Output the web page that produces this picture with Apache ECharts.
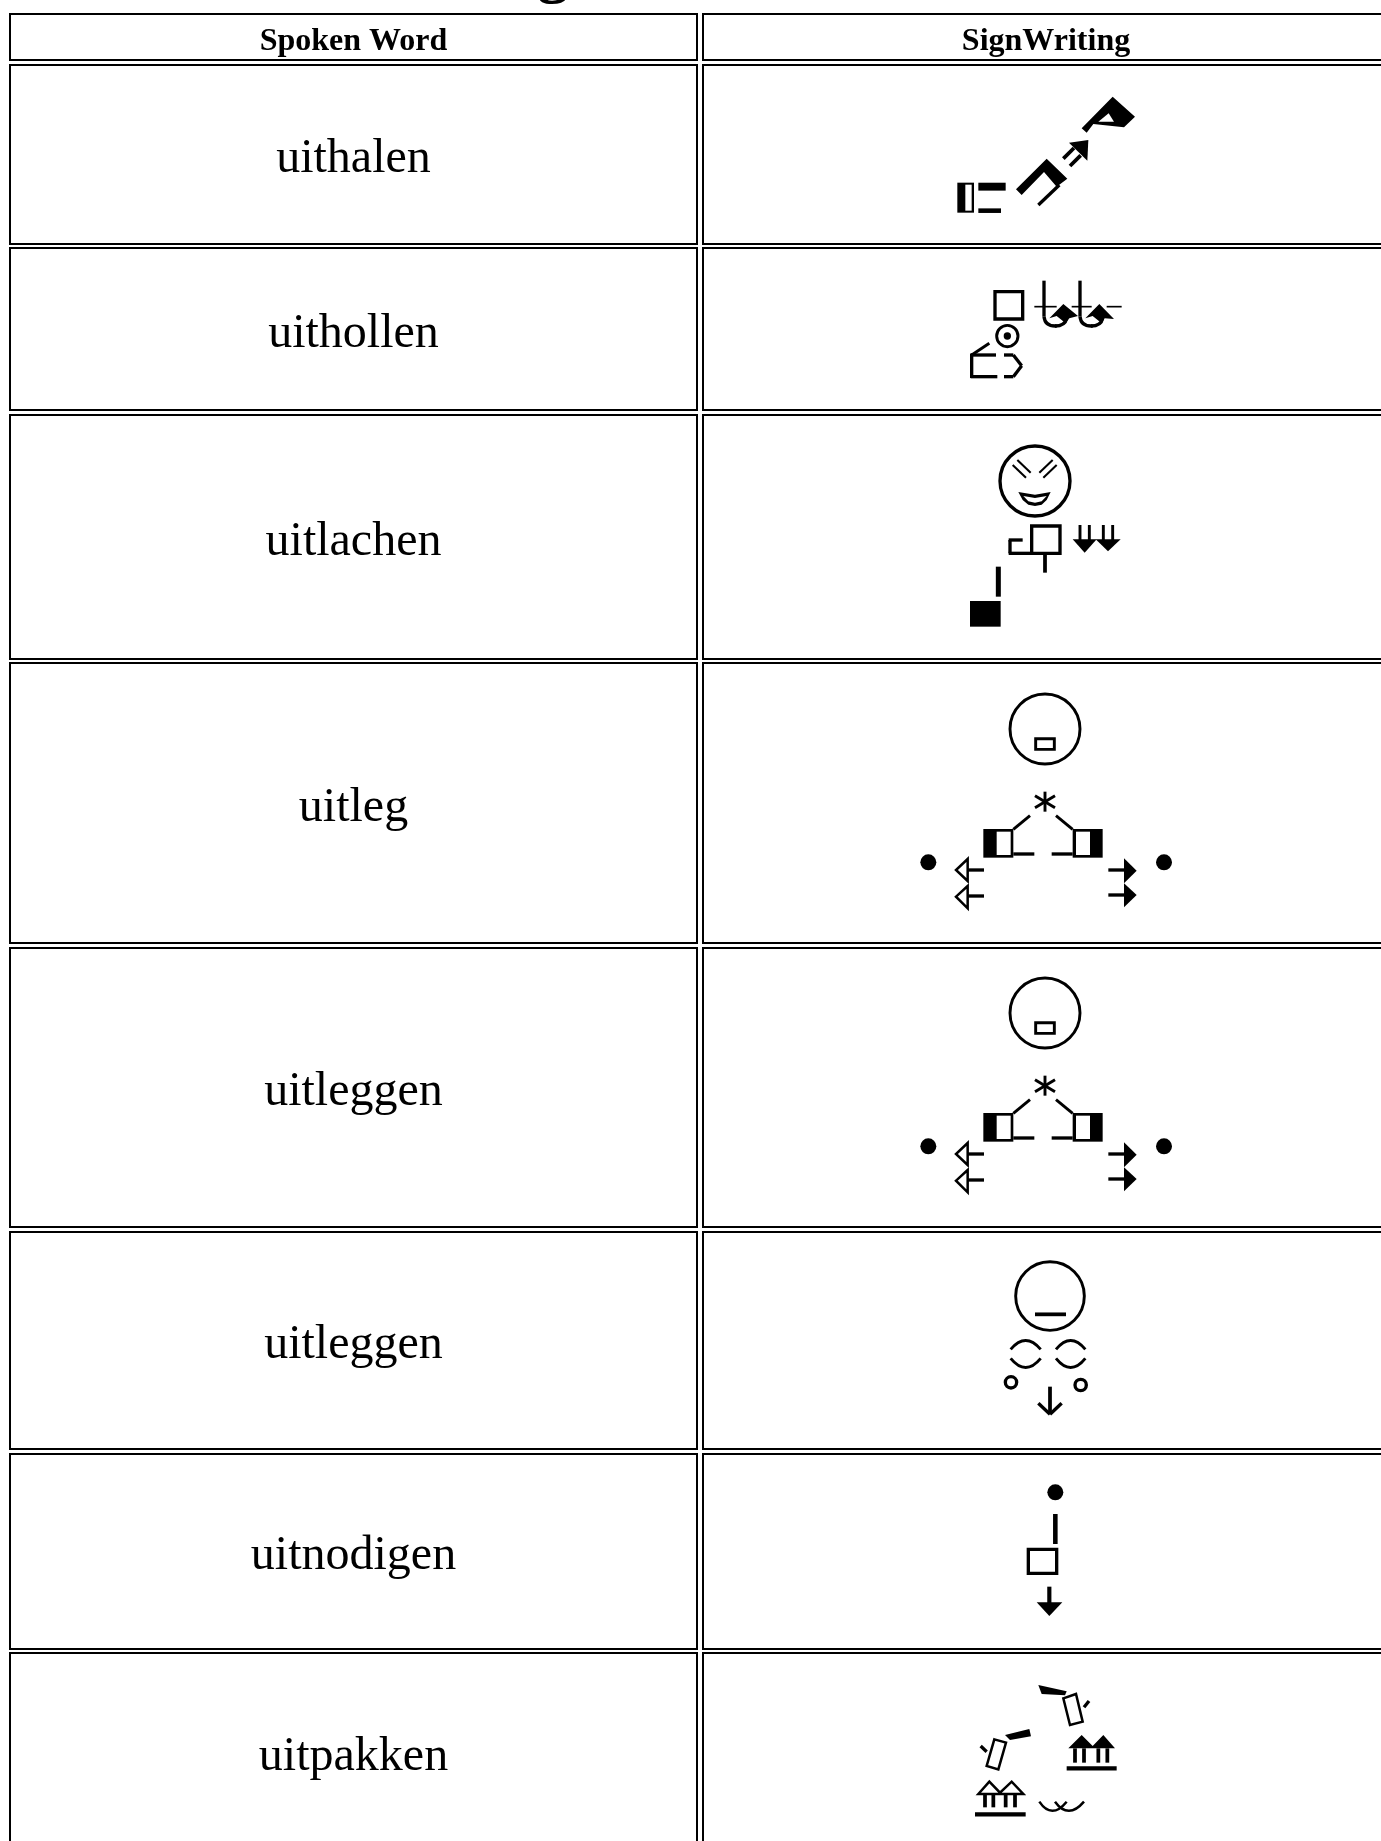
<!DOCTYPE html>
<html>
<head>
<meta charset="utf-8">
<style>
  html, body { margin: 0; padding: 0; background: #fff; overflow: hidden; }
  #main { width: 1381px; height: 1841px; }
</style>
<script src="https://cdn.jsdelivr.net/npm/echarts@6/dist/echarts.min.js"></script>
</head>
<body>
<div id="main"></div>
<script>
// table content
const headers = ["Spoken Word", "SignWriting"];
const words = ["uithalen", "uithollen", "uitlachen", "uitleg", "uitleggen", "uitleggen", "uitnodigen", "uitpakken"];
const titleTail = "g";

// row edges, in page pixels (header first, last row runs off the page)
const rowTops = [14, 65, 248, 415, 663, 948, 1232, 1454, 1653];
const rowBottoms = [60, 244, 410, 659, 943, 1227, 1449, 1649, 1851];
const columnLefts = [10, 703];
const columnRights = [697, 1400];

// signs, traced at 3x from the reference: [type, ...numbers]
const explainSign = [
  ["ring", 435, 147, 105, 7],
  ["frame", 407, 176, 56, 32, 7],
  ["line", 435, 335, 435, 395, 7],
  ["line", 405, 347, 465, 383, 7],
  ["line", 405, 383, 465, 347, 7],
  ["box", 250, 447, 90, 86, "#000"],
  ["box", 290, 455, 42, 70, "#fff"],
  ["line", 340, 448, 390, 407, 7],
  ["line", 340, 522, 403, 522, 8],
  ["box", 518, 447, 90, 86, "#000"],
  ["box", 528, 455, 42, 70, "#fff"],
  ["line", 518, 448, 468, 407, 7],
  ["line", 518, 522, 455, 522, 8],
  ["disc", 85, 547, 24],
  ["disc", 792, 547, 24],
  ["poly", "#fff", 6, 203, 537, 168, 570, 203, 603],
  ["line", 203, 570, 252, 570, 8],
  ["poly", "#fff", 6, 203, 618, 168, 650, 203, 685],
  ["line", 203, 648, 252, 648, 8],
  ["poly", "#000", 0, 672, 535, 710, 572, 672, 610],
  ["line", 625, 570, 672, 570, 8],
  ["poly", "#000", 0, 672, 610, 710, 645, 672, 682],
  ["line", 625, 645, 672, 645, 8]
];

const sign1 = [
  ["box", 172, 338, 50, 90, "#000"],
  ["box", 196, 344, 19, 78, "#fff"],
  ["line", 235, 350, 317, 350, 19],
  ["line", 235, 422, 303, 422, 11],
  ["poly", "#000", 0, 348, 358, 440, 266, 502, 326, 470, 350, 432, 306, 365, 375],
  ["line", 415, 405, 478, 345, 8],
  ["poly", "#000", 0, 507, 218, 565, 210, 562, 272],
  ["line", 490, 266, 522, 234, 9],
  ["line", 510, 288, 542, 256, 9],
  ["poly", "#000", 0, 545, 175, 638, 80, 705, 140, 672, 172, 580, 162, 560, 188],
  ["poly", "#fff", 0, 595, 155, 626, 130, 642, 155]
];

const sign2 = [
  ["frame", 285, 665, 83, 82, 8],
  ["ring", 322, 798, 32, 7],
  ["disc", 322, 798, 11],
  ["line", 268, 820, 215, 855, 7],
  ["line", 212, 855, 288, 855, 8],
  ["line", 215, 851, 215, 924, 8],
  ["line", 212, 920, 292, 920, 8],
  ["line", 312, 855, 340, 855, 8],
  ["line", 340, 855, 365, 887, 8],
  ["line", 365, 887, 340, 920, 8],
  ["line", 340, 920, 312, 920, 8],
  ["line", 432, 632, 432, 740, 8],
  ["arc", 432, 740, 435, 770, 470, 768, 8],
  ["arc", 465, 768, 495, 768, 500, 745, 8],
  ["line", 403, 710, 470, 710, 4],
  ["poly", "#000", 0, 448, 745, 490, 702, 534, 738, 508, 745, 497, 760, 470, 738],
  ["line", 540, 632, 540, 740, 8],
  ["arc", 540, 740, 543, 770, 578, 768, 8],
  ["arc", 573, 768, 603, 768, 608, 745, 8],
  ["line", 515, 710, 575, 710, 4],
  ["line", 620, 710, 665, 710, 4],
  ["poly", "#000", 0, 556, 745, 598, 702, 642, 747, 614, 745, 605, 760, 578, 738]
];

const sign3 = [
  ["ring", 315, 153, 105, 8],
  ["line", 248, 105, 288, 143, 5],
  ["line", 262, 90, 302, 128, 5],
  ["line", 340, 143, 380, 105, 5],
  ["line", 328, 128, 368, 90, 5],
  ["poly", "#000", 0, 265, 186, 315, 194, 362, 186, 350, 210, 335, 224, 315, 228, 295, 224, 278, 210],
  ["poly", "#fff", 0, 280, 198, 315, 204, 350, 198, 335, 214, 315, 218, 295, 214],
  ["frame", 305, 288, 85, 82, 8],
  ["line", 236, 370, 305, 370, 8],
  ["line", 240, 370, 240, 330, 8],
  ["line", 236, 330, 278, 330, 8],
  ["line", 345, 370, 345, 428, 9],
  ["line", 450, 285, 450, 335, 7],
  ["line", 478, 285, 478, 335, 7],
  ["poly", "#000", 0, 428, 328, 500, 328, 464, 368],
  ["line", 520, 285, 520, 335, 7],
  ["line", 548, 285, 548, 335, 7],
  ["poly", "#000", 0, 497, 328, 572, 328, 534, 364],
  ["line", 205, 410, 205, 500, 12],
  ["box", 120, 513, 92, 77, "#000"]
];

const sign6 = [
  ["ring", 210, 138, 103, 7],
  ["line", 165, 193, 258, 193, 9],
  ["arc", 92, 298, 137, 245, 182, 298, 7],
  ["arc", 92, 325, 137, 380, 182, 325, 7],
  ["arc", 228, 298, 272, 245, 316, 298, 7],
  ["arc", 228, 325, 272, 380, 316, 325, 7],
  ["ring", 93, 397, 17, 8],
  ["ring", 302, 405, 17, 8],
  ["line", 210, 410, 210, 490, 9],
  ["line", 175, 460, 210, 493, 8],
  ["line", 245, 460, 210, 493, 8]
];

const sign7 = [
  ["disc", 196, 67, 24],
  ["line", 196, 132, 196, 222, 11],
  ["frame", 115, 238, 85, 72, 8],
  ["line", 178, 350, 178, 410, 10],
  ["poly", "#000", 0, 140, 397, 217, 397, 178, 438]
];

const sign8 = [
  ["poly", "#000", 0, 235, 45, 320, 64, 315, 76, 245, 72],
  ["poly", "#fff", 6, 310, 85, 348, 72, 368, 155, 330, 165],
  ["line", 372, 112, 387, 93, 8],
  ["poly", "#000", 0, 135, 195, 208, 177, 213, 199, 150, 210],
  ["poly", "#fff", 6, 103, 208, 138, 218, 115, 298, 80, 288],
  ["line", 62, 228, 80, 245, 8],
  ["poly", "#000", 0, 325, 235, 365, 195, 398, 228, 430, 195, 465, 235],
  ["line", 345, 235, 345, 278, 9],
  ["line", 372, 235, 372, 278, 9],
  ["line", 415, 235, 415, 278, 9],
  ["line", 442, 235, 442, 278, 9],
  ["line", 320, 295, 470, 295, 10],
  ["poly", "#fff", 6, 55, 372, 88, 335, 120, 368, 155, 335, 190, 372],
  ["line", 75, 372, 75, 412, 9],
  ["line", 100, 372, 100, 412, 9],
  ["line", 137, 372, 137, 412, 9],
  ["line", 165, 372, 165, 412, 9],
  ["line", 45, 433, 197, 433, 10],
  ["arc", 238, 395, 275, 450, 320, 395, 6],
  ["arc", 285, 395, 325, 450, 372, 395, 6]
];

// where each trace sits on the page
const signOriginsX = [900, 900, 930, 900, 900, 980, 990, 960];
const signOriginsY = [70, 70, 430, 680, 964, 1250, 1470, 1670];
const signParts = [sign1, sign2, sign3, explainSign, explainSign, sign6, sign7, sign8];

// cells
const cells = [];
rowTops.forEach((top, r) => {
  columnLefts.forEach((left, c) => {
    cells.push([left, top, columnRights[c], rowBottoms[r]]);
  });
});

// text items: x, y (top of the text box), text, font
const labels = [];
labels.push([553, -59, titleTail, "bold 64px 'Liberation Serif'"]);
headers.forEach((h, i) => {
  labels.push([i === 0 ? 353.5 : 1046, 26, h, "bold 32px 'Liberation Serif'"]);
});
words.forEach((w, i) => {
  const mid = (rowTops[i + 1] + rowBottoms[i + 1]) / 2;
  labels.push([353.5, mid - 19, w, "48px 'Liberation Serif'"]);
});

// flat list of sign parts
const parts = [];
signParts.forEach((list, s) => {
  list.forEach((p) => {
    parts.push({ ox: signOriginsX[s], oy: signOriginsY[s], p: p });
  });
});

// the traced strokes read a bit thin at page size
const strokeScale = 1.25;

function renderCell(params, api) {
  const a = api.coord([api.value(0), api.value(1)]);
  const b = api.coord([api.value(2), api.value(3)]);
  return {
    type: "rect",
    shape: { x: a[0], y: a[1], width: b[0] - a[0], height: b[1] - a[1] },
    style: { fill: "#fff", stroke: "#000", lineWidth: 2 }
  };
}

function renderLabel(params, api) {
  const item = labels[params.dataIndex];
  const pos = api.coord([item[0], item[1]]);
  return {
    type: "text",
    style: {
      x: pos[0],
      y: pos[1],
      text: item[2],
      font: item[3],
      fill: "#000",
      textAlign: "center"
    }
  };
}

function renderPart(params, api) {
  const item = parts[params.dataIndex];
  const p = item.p;
  const at = (x, y) => api.coord([item.ox + x / 3, item.oy + y / 3]);
  const type = p[0];
  if (type === "line") {
    const a = at(p[1], p[2]);
    const b = at(p[3], p[4]);
    return {
      type: "line",
      shape: { x1: a[0], y1: a[1], x2: b[0], y2: b[1] },
      style: { stroke: "#000", lineWidth: p[5] / 3 * strokeScale }
    };
  }
  if (type === "box") {
    const a = at(p[1], p[2]);
    return {
      type: "rect",
      shape: { x: a[0], y: a[1], width: p[3] / 3, height: p[4] / 3 },
      style: { fill: p[5] }
    };
  }
  if (type === "frame") {
    const a = at(p[1], p[2]);
    return {
      type: "rect",
      shape: { x: a[0], y: a[1], width: p[3] / 3, height: p[4] / 3 },
      style: { fill: "#fff", stroke: "#000", lineWidth: p[5] / 3 * strokeScale }
    };
  }
  if (type === "disc" || type === "ring") {
    const a = at(p[1], p[2]);
    return {
      type: "circle",
      shape: { cx: a[0], cy: a[1], r: p[3] / 3 },
      style: type === "disc"
        ? { fill: "#000" }
        : { fill: "transparent", stroke: "#000", lineWidth: p[4] / 3 * strokeScale }
    };
  }
  if (type === "arc") {
    const a = at(p[1], p[2]);
    const c = at(p[3], p[4]);
    const b = at(p[5], p[6]);
    return {
      type: "bezierCurve",
      shape: { x1: a[0], y1: a[1], cpx1: c[0], cpy1: c[1], x2: b[0], y2: b[1] },
      style: { fill: "none", stroke: "#000", lineWidth: p[7] / 3 * strokeScale }
    };
  }
  // poly: fill, stroke width, then points
  const points = [];
  for (let i = 3; i < p.length; i += 2) {
    points.push(at(p[i], p[i + 1]));
  }
  return {
    type: "polygon",
    shape: { points: points },
    style: p[2] > 0
      ? { fill: p[1], stroke: "#000", lineWidth: p[2] / 3 * strokeScale }
      : { fill: p[1] }
  };
}

const myChart = echarts.init(document.getElementById("main"), null, { renderer: "canvas" });
myChart.setOption({
  animation: false,
  backgroundColor: "#fff",
  grid: { left: 0, right: 0, top: 0, bottom: 0 },
  xAxis: { type: "value", min: 0, max: 1381, show: false },
  yAxis: { type: "value", min: 0, max: 1841, inverse: true, show: false },
  series: [
    {
      type: "custom",
      coordinateSystem: "cartesian2d",
      clip: true,
      silent: true,
      renderItem: renderCell,
      encode: { x: [0, 2], y: [1, 3] },
      data: cells,
      z: 1
    },
    {
      type: "custom",
      coordinateSystem: "cartesian2d",
      clip: false,
      silent: true,
      renderItem: renderPart,
      data: parts.map((_, i) => [i, 0]),
      z: 2
    },
    {
      type: "custom",
      coordinateSystem: "cartesian2d",
      clip: false,
      silent: true,
      renderItem: renderLabel,
      data: labels.map((_, i) => [i, 0]),
      z: 3
    }
  ]
});
</script>
</body>
</html>
